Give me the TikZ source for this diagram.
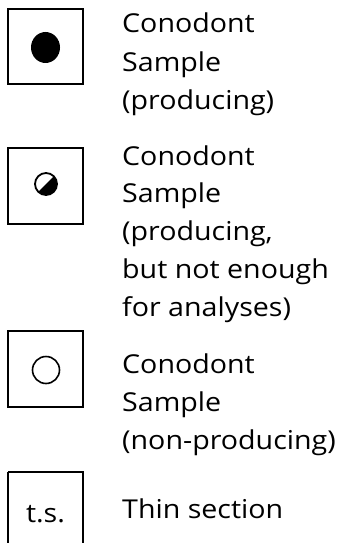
\documentclass[tikz,border=0pt]{standalone}
\usepackage{fontspec}
\setmainfont{Open Sans}[FakeStretch=1.1]
\begin{document}
\begin{tikzpicture}[x=1pt,y=-1pt,
  keybox/.style={draw=black,line width=1.6pt},
  label/.style={anchor=base west,inner sep=0pt,
    font=\fontsize{26}{30}\selectfont}]
\useasboundingbox (0,0) rectangle (342,543);
% legend boxes
\draw[keybox] (8,9) rectangle (83,84);
\draw[keybox] (8,148) rectangle (83,224);
\draw[keybox] (8,331) rectangle (83,407);
\draw[keybox] (8,472) -- (8,545) (83,545) -- (83,472) -- (8,472);
% symbols
\fill (45.5,47.5) ellipse (14.5 and 15.5);
\fill (46,184) ++(-45:11) arc (-45:135:11) -- cycle;
\draw[line width=1.8pt] (46,184) circle (11);
\draw[line width=1.6pt] (46,370) circle (13.5);
\node[anchor=base,inner sep=0pt,font=\fontsize{26}{30}\selectfont] (ts) at (45.5,522) {t.s.};
% labels: producing
\node[label] (a1) at (122,33) {Conodont};
\node[label] (a2) at (122,71) {Sample};
\node[label] (a3) at (122,109) {(producing)};
% labels: producing, too little
\node[label] (b1) at (122,165) {Conodont};
\node[label] (b2) at (122,202) {Sample};
\node[label] (b3) at (122,240) {(producing,};
\node[label] (b4) at (122,278) {but not enough};
\node[label] (b5) at (122,316) {for analyses)};
% labels: non-producing
\node[label] (c1) at (122,373) {Conodont};
\node[label] (c2) at (122,411) {Sample};
\node[label] (c3) at (122,449) {(non-producing)};
% label: thin section
\node[label] (d1) at (122,518) {Thin section};
\end{tikzpicture}
\end{document}
